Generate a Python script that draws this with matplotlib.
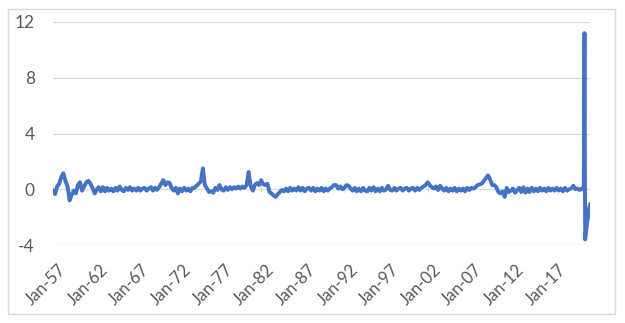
import pandas as pd
import matplotlib
matplotlib.use("Agg")
import matplotlib.pyplot as plt
from matplotlib.patches import Rectangle
from matplotlib.transforms import ScaledTranslation

# quarterly readings (Jan, Apr, Jul, Oct), 1957 through Jul 2020
quarterly = [
    -0.1, -0.35, 0.2, 0.4,      # 1957
    0.9, 1.15, 0.6, 0.2,        # 1958
    -0.8, -0.4, -0.1, -0.3,     # 1959
    0.3, 0.5, -0.1, 0.2,        # 1960
    0.5, 0.6, 0.4, 0.1,         # 1961
    -0.3, -0.05, 0.15, -0.15,   # 1962
    0.15, -0.15, 0.1, -0.1,     # 1963
    0.05, -0.15, 0.1, -0.1,     # 1964
    0.2, -0.05, -0.15, 0.1,     # 1965
    -0.05, 0.15, -0.1, 0.05,    # 1966
    -0.1, 0.1, -0.1, 0.05,      # 1967
    0.1, -0.1, 0.05, 0.15,      # 1968
    -0.1, 0.1, -0.05, 0.15,     # 1969
    0.4, 0.65, 0.3, 0.5,        # 1970
    0.45, 0.1, -0.1, 0.1,       # 1971
    -0.3, 0.05, -0.15, 0.1,     # 1972
    -0.1, 0.05, -0.15, 0.1,     # 1973
    0.1, 0.25, 0.4, 0.55,       # 1974
    1.5, 0.3, 0.05, -0.2,       # 1975
    -0.15, -0.25, 0.1, -0.05,   # 1976
    0.3, 0.0, -0.1, 0.15,       # 1977
    -0.05, 0.15, 0.0, 0.15,     # 1978
    0.05, 0.2, 0.05, 0.2,       # 1979
    0.1, 0.3, 1.24, 0.2,        # 1980
    -0.1, 0.3, 0.45, 0.3,       # 1981
    0.65, 0.35, 0.3, 0.4,       # 1982
    -0.2, -0.3, -0.45, -0.55,   # 1983
    -0.35, -0.2, -0.05, -0.15,  # 1984
    0.05, -0.15, 0.1, -0.1,     # 1985
    0.05, -0.1, 0.15, -0.1,     # 1986
    0.1, -0.15, 0.05, 0.1,      # 1987
    -0.1, 0.1, -0.15, 0.05,     # 1988
    -0.1, 0.1, -0.15, 0.05,     # 1989
    -0.1, 0.05, 0.15, 0.3,      # 1990
    0.3, 0.05, 0.2, 0.0,        # 1991
    0.1, 0.3, 0.25, 0.05,       # 1992
    -0.1, 0.1, -0.15, 0.05,     # 1993
    -0.15, 0.1, -0.1, -0.15,    # 1994
    0.1, -0.1, 0.15, -0.15,     # 1995
    0.05, -0.15, 0.1, -0.1,     # 1996
    0.0, 0.25, -0.05, -0.1,     # 1997
    0.1, -0.1, 0.05, 0.1,       # 1998
    -0.1, 0.05, 0.1, -0.1,      # 1999
    0.05, 0.1, -0.1, 0.1,       # 2000
    -0.05, 0.1, 0.2, 0.3,       # 2001
    0.5, 0.3, 0.15, 0.05,       # 2002
    0.2, -0.05, 0.25, 0.05,     # 2003
    -0.1, 0.1, -0.15, 0.05,     # 2004
    -0.1, 0.1, -0.15, 0.05,     # 2005
    -0.1, 0.05, -0.15, 0.1,     # 2006
    -0.05, 0.1, 0.05, 0.15,     # 2007
    0.3, 0.35, 0.4, 0.6,        # 2008
    0.8, 1.0, 0.7, 0.3,         # 2009
    0.3, 0.15, -0.2, -0.3,      # 2010
    -0.15, -0.55, 0.1, -0.2,    # 2011
    -0.1, 0.05, -0.25, -0.05,   # 2012
    0.1, -0.2, 0.15, -0.25,     # 2013
    0.05, -0.2, 0.1, -0.15,     # 2014
    0.05, -0.15, 0.1, -0.1,     # 2015
    0.05, -0.15, 0.1, -0.1,     # 2016
    0.05, -0.1, 0.1, -0.1,      # 2017
    0.05, -0.15, 0.1, -0.1,     # 2018
    0.0, 0.05, 0.25, 0.0,       # 2019
    0.05, -0.05, 0.05,          # 2020 Jan-Jul
]
# monthly readings Aug 2020 - Jul 2021
monthly = [0.05, 0.0, 0.1, 11.2, -3.6, -3.1, -2.7, -2.3, -1.9, -1.6, -1.3, -1.1]

tick_dates = pd.date_range("1957-01-01", "2017-01-01", freq="5YS")
tick_labels = [d.strftime("%b-%y") for d in tick_dates]
y_ticks = [-4, 0, 4, 8, 12]

dates = list(pd.date_range("1957-01-01", periods=len(quarterly), freq="3MS")) + \
    list(pd.date_range("2020-08-01", periods=len(monthly), freq="MS"))
values = quarterly + monthly

plt.rcParams['font.family'] = ['Lato', 'DejaVu Sans']

fig = plt.figure(figsize=(6.25, 3.23), dpi=100)
ax = fig.add_axes([53/625, 1-245/323, (590-53)/625, (245-22)/323])

ax.plot(dates, values, color="#4472C4", lw=2.8, solid_joinstyle="round", zorder=3)
# small tick marks where the category axis crosses zero
ax.vlines(tick_dates, -0.2, 0.2, color="#d0d0d0", lw=0.8, zorder=2)

ax.set_xlim(dates[0], dates[-1])
ax.set_ylim(-4, 12)
ax.set_yticks(y_ticks)
ax.set_yticklabels([str(t) for t in y_ticks])
ax.set_xticks(tick_dates)
ax.set_xticklabels(tick_labels, rotation=45, ha="right", rotation_mode="anchor")
ax.grid(axis="y", color="#d9d9d9", lw=0.9)
ax.set_axisbelow(True)
for s in ax.spines.values():
    s.set_visible(False)
ax.tick_params(axis="y", length=0, pad=13, labelsize=12.5, labelcolor="#595959")
ax.tick_params(axis="x", length=0, pad=12, labelsize=12, labelcolor="#595959")
shift = ScaledTranslation(5/100, 0, fig.dpi_scale_trans)
for lab in ax.get_xticklabels():
    lab.set_transform(lab.get_transform() + shift)

# chart frame
fig.add_artist(Rectangle((8/625, 1-314/323), (615-8)/625, (314-9)/323,
                         transform=fig.transFigure, fill=False, ec="#d9d9d9", lw=1))

fig.savefig("out.png", dpi=100)
